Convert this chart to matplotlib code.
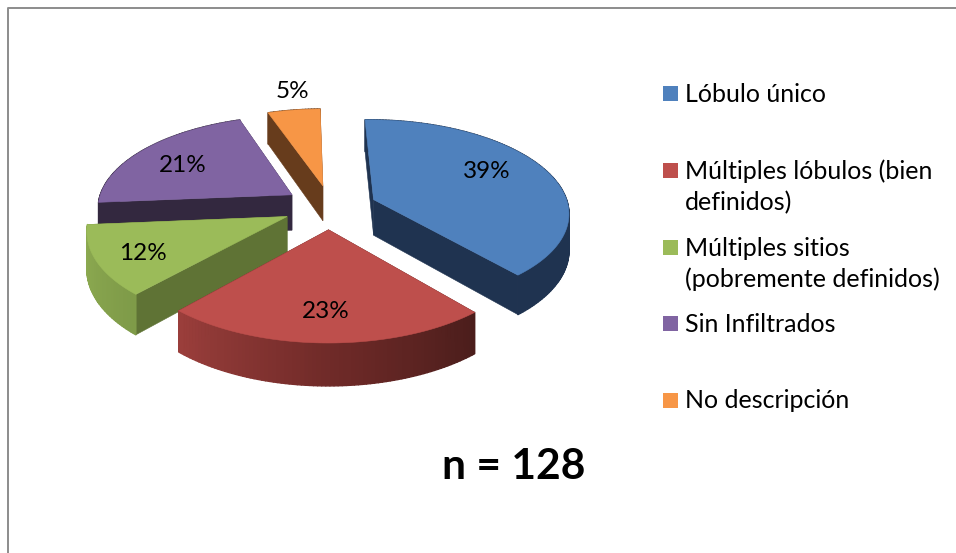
import numpy as np
import matplotlib
matplotlib.use("Agg")
import matplotlib.pyplot as plt
from matplotlib.collections import PolyCollection
from matplotlib.patches import Polygon, Rectangle

# Data
categories = ["Lóbulo único", "Múltiples lóbulos (bien\ndefinidos)",
              "Múltiples sitios\n(pobremente definidos)", "Sin Infiltrados", "No descripción"]
values = [39, 23, 12, 21, 5]
sample_note = "n = 128"

# Styles
top_colors = ["#4F81BD", "#BE4F4C", "#9BBB59", "#8064A2", "#F79646"]
radial_colors = ["#1F3350", "#4E1F1D", "#5F7335", "#33283F", "#673C1C"]
arc_stops = [
    [(0, "#1F3350"), (360, "#1F3350")],
    [(140, "#4A1D1B"), (180, "#6F2A28"), (222, "#9A3E3B")],
    [(222, "#7E9A48"), (266, "#8FAD52")],
    [(266, "#33283F"), (342, "#33283F")],
    [(342, "#673C1C"), (360, "#673C1C")],
]
label_xy = [(487, 172), (326, 311), (143, 253), (183, 165), (292, 91)]
legend_rows = [93, 170, 247, 323, 400]
FONT = "Lato"

CX, CY, RX, RY, PERSP, EXPLODE, DEPTH = 330, 207, 195, 92, 0.13, 0.24, 36
START = -1.2


def project(u, v, z=0.0):
    s = 1.0 / (1.0 + PERSP * v)
    return CX + RX * u * s, CY - RY * v * s + DEPTH * z * s


def hexmix(stops, th):
    ths = [a for a, _ in stops]
    rgb = np.array([matplotlib.colors.to_rgb(c) for _, c in stops])
    return tuple(np.interp(th, ths, rgb[:, i]) for i in range(3))


fig = plt.figure(figsize=(9.56, 5.53), dpi=100, facecolor="white")
ax = fig.add_axes([0, 0, 1, 1])
ax.set_xlim(0, 956)
ax.set_ylim(553, 0)
ax.axis("off")

# frame
ax.plot([8.5, 8.5, 956], [553, 7.5, 7.5], color="#8C8C8C", lw=1.4, solid_capstyle="butt", zorder=0)

fr = np.array(values) / sum(values)
edges = np.concatenate([[0], np.cumsum(fr)]) * 360
order = [4, 3, 0, 2, 1]
zo = 2
for i in order:
    a0, a1 = edges[i], edges[i + 1]
    mid = np.radians((a0 + a1) / 2)
    ox, oy = EXPLODE * np.sin(mid), EXPLODE * np.cos(mid)
    th = np.linspace(a0, a1, max(int(a1 - a0), 8) + 1)
    us = ox + np.sin(np.radians(th + START))
    vs = oy + np.cos(np.radians(th + START))

    # radial faces
    for k in (0, -1):
        q = [project(ox, oy), project(us[k], vs[k]), project(us[k], vs[k], 1), project(ox, oy, 1)]
        ax.add_patch(Polygon(q, closed=True, fc=radial_colors[i], ec=radial_colors[i], lw=0.4, zorder=zo))
    # outer strips, back to front
    polys, cols = [], []
    idx = np.argsort(-vs[:-1])
    for j in idx:
        polys.append([project(us[j], vs[j]), project(us[j + 1], vs[j + 1]),
                      project(us[j + 1], vs[j + 1], 1), project(us[j], vs[j], 1)])
        cols.append(hexmix(arc_stops[i], (th[j] + th[j + 1]) / 2))
    ax.add_collection(PolyCollection(polys, facecolors=cols, edgecolors=cols, linewidths=1.0, zorder=zo))
    zo += 1
    # top surface
    top = [project(ox, oy)] + [project(a, b) for a, b in zip(us, vs)]
    ax.add_patch(Polygon(top, closed=True, fc=top_colors[i], ec=top_colors[i], lw=0.4, zorder=zo))
    zo += 1

for v, (x, y) in zip(values, label_xy):
    ax.text(x, y, f"{v}%", ha="center", va="center", fontsize=17.5, family=FONT, color="black", zorder=50)

for c, lab, y in zip(top_colors, categories, legend_rows):
    ax.add_patch(Rectangle((663, y - 7), 15, 15, fc=c, ec="none", zorder=50))
    ax.text(685, y - 10.5, lab, ha="left", va="top", fontsize=18, family=FONT, color="black",
            linespacing=1.4, zorder=50)

ax.text(513.5, 467, sample_note, ha="center", va="center", fontsize=30.6, fontweight="bold", family=FONT, color="black", zorder=50)

fig.savefig("out.png", dpi=100, facecolor="white")
